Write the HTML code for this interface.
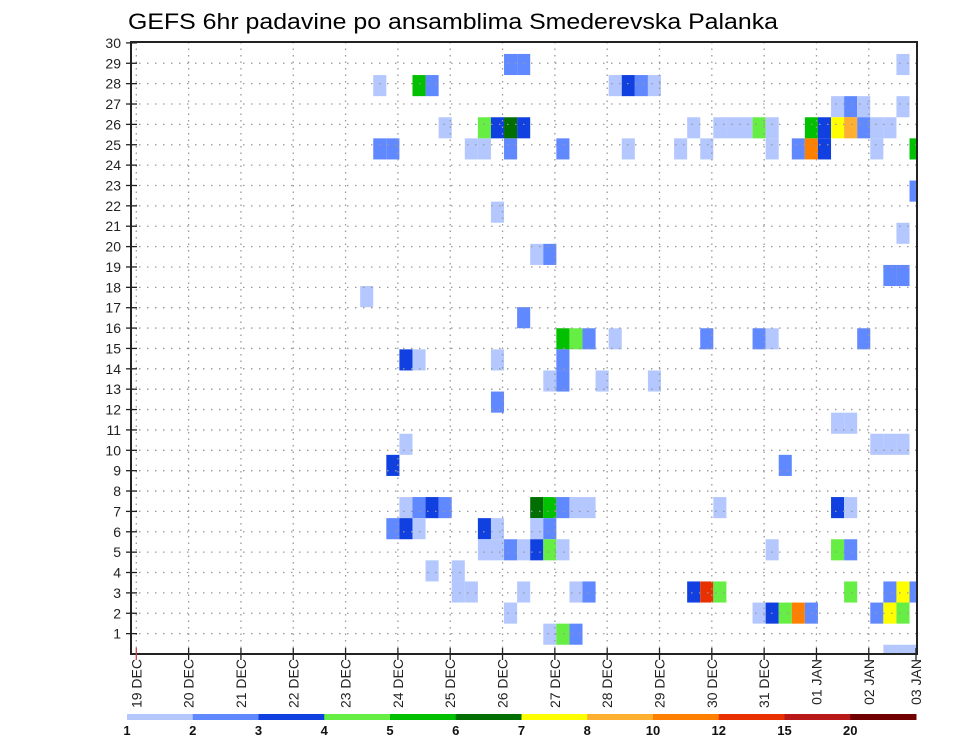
<!DOCTYPE html>
<html><head><meta charset="utf-8"><style>
html,body{margin:0;padding:0;background:#fff;}
svg{display:block;font-family:"Liberation Sans",sans-serif;}
</style></head><body>
<svg id="chart" width="960" height="742" viewBox="0 0 960 742" xmlns="http://www.w3.org/2000/svg">
<text x="128" y="29" font-size="22" textLength="650" lengthAdjust="spacingAndGlyphs" fill="#000">GEFS 6hr padavine po ansamblima Smederevska Palanka</text>
<g id="cells"></g>
<g id="grid"></g>
<g id="axes"></g>
<g id="legend"></g>
</svg>
<script>
const dayLabels = ["19 DEC","20 DEC","21 DEC","22 DEC","23 DEC","24 DEC","25 DEC","26 DEC","27 DEC","28 DEC","29 DEC","30 DEC","31 DEC","01 JAN","02 JAN","03 JAN"];
const rowLabels = [1,2,3,4,5,6,7,8,9,10,11,12,13,14,15,16,17,18,19,20,21,22,23,24,25,26,27,28,29,30];
const levelBounds = [1,2,3,4,5,6,7,8,10,12,15,20];
const levelColors = ["#b4c8ff","#6088ff","#1040e0","#66ee44","#00c000","#006e00","#ffff00","#ffb030","#ff8000","#e83000","#b81818","#700000"];
// cells: 6-hourly step index, ensemble member, precipitation (mm)
const cellStep = [28,29,58, 18,21,22,36,37,38,39, 53,54,55,58,
 23,26,27,28,29,42,44,45,46,47,48,51,52,53,54,55,56,57,
 18,19,25,26,28,32,37,41,43,48,50,51,52,56,59,
 59, 27, 58, 30,31, 57,58, 17, 29,
 32,33,34,36,43,47,48,55, 20,21,27,32, 31,32,35,39, 27, 53,54, 20,56,57,58, 19,49,
 20,21,22,23,30,31,32,33,34,44,53,54,
 19,20,21,26,27,30,31,
 26,27,28,29,30,31,32,48,53,54,
 22,24,
 24,25,29,33,34,42,43,44,54,57,58,59,
 28,47,48,49,50,51,56,57,58,
 31,32,33, 57,58,59];
const cellMember = [29,29,29, 28,28,28,28,28,28,28, 27,27,27,27,
 26,26,26,26,26,26,26,26,26,26,26,26,26,26,26,26,26,26,
 25,25,25,25,25,25,25,25,25,25,25,25,25,25,25,
 23, 22, 21, 20,20, 19,19, 18, 17,
 16,16,16,16,16,16,16,16, 15,15,15,15, 14,14,14,14, 13, 12,12, 11,11,11,11, 10,10,
 8,8,8,8,8,8,8,8,8,8,8,8,
 7,7,7,7,7,7,7,
 6,6,6,6,6,6,6,6,6,6,
 5,5,
 4,4,4,4,4,4,4,4,4,4,4,4,
 3,3,3,3,3,3,3,3,3,
 2,2,2, 1,1,1];
const cellPrecip = [2.5,2.5,1.5, 1.5,5.5,2.5,1.5,3.5,2.5,1.5, 1.5,2.5,1.5,1.5,
 1.5,4.5,3.5,6.5,3.5,1.5,1.5,1.5,1.5,4.5,1.5,5.5,3.5,7.5,9,2.5,1.5,1.5,
 2.5,2.5,1.5,1.5,2.5,2.5,1.5,1.5,1.5,1.5,2.5,11,3.5,1.5,5.5,
 2.5, 1.5, 1.5, 1.5,2.5, 2.5,2.5, 1.5, 2.5,
 5.5,4.5,2.5,1.5,2.5,2.5,1.5,2.5, 3.5,1.5,1.5,2.5, 1.5,2.5,1.5,1.5, 2.5, 1.5,1.5, 1.5,1.5,1.5,1.5, 3.5,2.5,
 1.5,2.5,3.5,2.5,6.5,5.5,2.5,1.5,1.5,1.5,3.5,1.5,
 2.5,3.5,1.5,3.5,1.5,1.5,2.5,
 1.5,1.5,2.5,1.5,3.5,4.5,1.5,1.5,4.5,2.5,
 1.5,1.5,
 1.5,1.5,1.5,1.5,2.5,3.5,13.5,4.5,4.5,2.5,7.5,2.5,
 1.5,1.5,3.5,4.5,11,2.5,2.5,7.5,4.5,
 1.5,4.5,2.5, 1.5,1.5,1.5];

const NS="http://www.w3.org/2000/svg";
const PL=131, PR=917, PT=42, PB=654;
const xStep = s => 136.3 + 13.08*s;
const xCell = s => 137.8 + 13.08*s;
const xDay = d => xStep(d*4);
const yRow = r => 654 - 20.37*r;
const yMem = m => 64.5 + (29-m)*21.1;
function colorFor(v){let k=0;for(let i=0;i<levelBounds.length;i++){if(v>=levelBounds[i])k=i;}return levelColors[k];}
function mk(tag,attrs,parent){const e=document.createElementNS(NS,tag);for(const k in attrs)e.setAttribute(k,attrs[k]);parent.appendChild(e);return e;}

const gc=document.getElementById('cells');
for(let i=0;i<cellStep.length;i++){
  let x0=xCell(cellStep[i]), x1=Math.min(xCell(cellStep[i]+1),PR);
  let y0=Math.max(yMem(cellMember[i])-10.55,PT), y1=Math.min(yMem(cellMember[i])+10.55,PB);
  const r=mk('rect',{x:x0,y:y0,width:x1-x0,height:y1-y0,fill:colorFor(cellPrecip[i])},gc);
  
  
}
const gg=document.getElementById('grid');
for(let r=1;r<rowLabels.length;r++){
  const l=mk('line',{x1:PL,x2:PR,y1:yRow(rowLabels[r-1]),y2:yRow(rowLabels[r-1]),stroke:'#999','stroke-width':1.3,'stroke-dasharray':'1.5 6.5'},gg);
  
  
}
for(let d=0;d<dayLabels.length;d++){
  const x=xDay(d); if(x>PR) continue;
  const l=mk('line',{x1:x,x2:x,y1:PT,y2:PB,stroke:'#999','stroke-width':1.3,'stroke-dasharray':'1.5 5'},gg);
  
  
}
const ga=document.getElementById('axes');
const fr=mk('rect',{x:PL,y:PT,width:PR-PL,height:PB-PT,fill:'none',stroke:'#222','stroke-width':2},ga);


for(let r=0;r<rowLabels.length;r++){
  const y=yRow(rowLabels[r]);
  const t=mk('line',{x1:126,x2:137,y1:y,y2:y,stroke:'#222','stroke-width':1.3},ga);
  
  
  const tx=mk('text',{x:121,y:y+5,'font-size':14,'text-anchor':'end',fill:'#222'},ga);
  tx.textContent=rowLabels[r];
  
  
}
for(let d=0;d<dayLabels.length;d++){
  const x=Math.min(xDay(d),PR-1);
  const t=mk('line',{x1:x,x2:x,y1:PB-6,y2:PB+6,stroke:d===0?'#c44':'#222','stroke-width':1.3},ga);
  
  
  const tx=mk('text',{x:0,y:0,'font-size':14,'text-anchor':'end',fill:'#222',transform:`translate(${x+5},659) rotate(-90)`},ga);
  tx.textContent=dayLabels[d];
  
  
}
const gl=document.getElementById('legend');
const segW=(916-127)/levelColors.length;
for(let k=0;k<levelColors.length;k++){
  const r=mk('rect',{x:127+k*segW,y:714,width:segW+0.5,height:6,fill:levelColors[k]},gl);
  
  
}
for(let k=0;k<levelBounds.length;k++){
  const tx=mk('text',{x:127+k*segW,y:735,'font-size':13,'font-weight':'bold','text-anchor':'middle',fill:'#111'},gl);
  tx.textContent=levelBounds[k];
  
  
}
</script>
</body></html>
